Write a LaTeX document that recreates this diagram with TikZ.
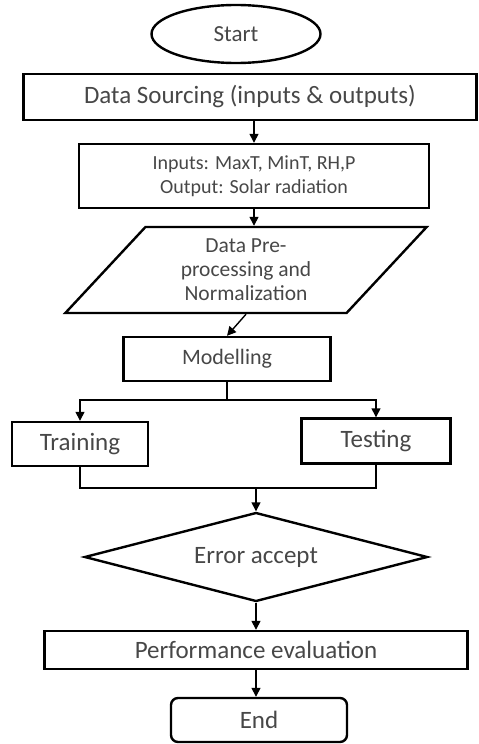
\documentclass[tikz,border=0pt]{standalone}
\usepackage{fontspec}
\setmainfont{Carlito}
\usetikzlibrary{shapes.geometric,arrows.meta}

\tikzset{
	block/.style={draw, line width=2.4pt, text=black!72, align=center,
		font=\fontsize{25}{30}\selectfont, inner sep=0pt},
	fsize/.style={font=\fontsize{#1}{24}\selectfont},
	procbox/.style={block, rectangle},
	termbox/.style={block, ellipse},
	endbox/.style={block, rectangle, rounded corners=7pt},
	iobox/.style={block, trapezium, trapezium left angle=50,
		trapezium right angle=130, trapezium stretches=true},
	decbox/.style={block, diamond, aspect=3.85},
	link/.style={line width=1.4pt},
	arrowlink/.style={link, -{Triangle[length=9pt,width=9pt]}}
}

\begin{document}
\begin{tikzpicture}[x=1pt, y=-1pt]
			%%%%% START %%%%%
			\useasboundingbox (0, 0) rectangle (479, 744);
			
			\node[termbox, fsize=23, minimum width=169pt, minimum height=58pt] (start) at (236, 34) {Start};
			\node[procbox, minimum width=453pt, minimum height=46pt] (source) at (250, 97) {Data Sourcing (inputs \& outputs)};
			\node[procbox, fsize=20, minimum width=350pt, minimum height=64pt] (inputs) at (254, 176) {Inputs: MaxT, MinT, RH,P\\Output: Solar radiation};
			\node[iobox, fsize=21.5, minimum width=362pt, minimum height=86pt] (prep) at (246, 270) {Data Pre-\\processing and\\Normalization};
			\node[procbox, fsize=22, minimum width=207pt, minimum height=44pt] (model) at (227, 359) {Modelling};
			
			\node[procbox, minimum width=136pt, minimum height=44pt] (train) at (80, 444) {Training};
			\node[procbox, minimum width=149pt, minimum height=45pt] (test) at (376, 441) {Testing};
			
			\node[decbox, minimum width=343pt, minimum height=89pt] (accept) at (256, 557) {Error accept};
			\node[procbox, minimum width=423pt, minimum height=38pt] (perf) at (256, 650) {Performance evaluation};
			\node[endbox, minimum width=176pt, minimum height=44pt] (finish) at (259, 720) {End};
			
			\coordinate (split) at (227, 400);
			\coordinate (join) at (256, 488);
			
			\draw[arrowlink] (inputs.north |- source.south) -- (inputs.north);
			\draw[arrowlink] (inputs.south) -- (inputs.south |- prep.north);
			\draw[arrowlink] (prep.south) -- (model.north);
			
			\draw[link] (model.south) -- (split);
			\draw[arrowlink] (split) -| (train.north);
			\draw[arrowlink] (split) -| (test.north);
			
			\draw[link] (train.south) |- (join) -| (test.south);
			\draw[arrowlink] (join) -- (accept.north);
			
			\draw[arrowlink] (accept.south) -- (perf.north);
			\draw[arrowlink] (perf.south) -- (perf.south |- finish.north);
			
			%%%%% END %%%%%
\end{tikzpicture}
\end{document}
